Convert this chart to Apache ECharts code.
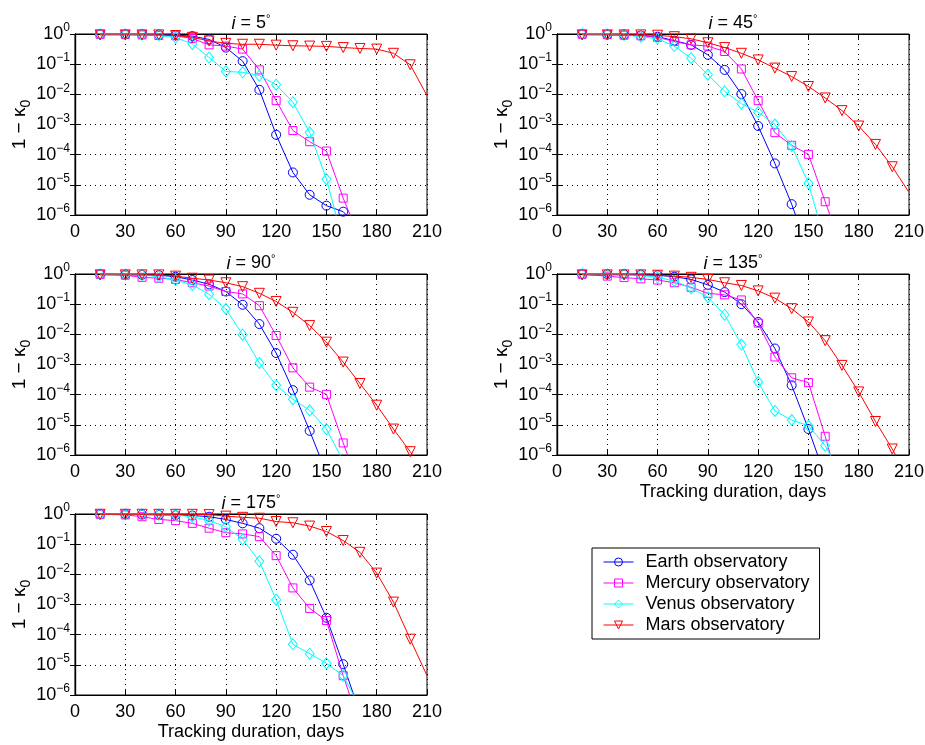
<!DOCTYPE html>
<html><head><meta charset="utf-8">
<script src="https://cdn.jsdelivr.net/npm/echarts@6/dist/echarts.min.js"></script>
<style>html,body{margin:0;padding:0;background:#fff}#c{width:925px;height:745px}</style>
</head><body><div id="c"></div>
<script>
// Tracking durations (days) at which the curves are sampled
const days = [15,30,40,50,60,70,80,90,100,110,120,130,140,150,160,170,180,190,200,210];
const xTicks = [0,30,60,90,120,150,180,210];
const panelIncl = ['5','45','90','135','175'];
const seriesNames = ['Earth observatory','Mercury observatory','Venus observatory','Mars observatory'];

// log10(1 - kappa0), one array per observatory and panel
const earth5   = [-0.01,-0.01,-0.01,-0.02,-0.04,-0.07,-0.18,-0.45,-0.90,-1.85,-3.34,-4.59,-5.33,-5.69,-5.89,-6.5];
const mercury5 = [-0.01,-0.02,-0.03,-0.05,-0.06,-0.15,-0.36,-0.40,-0.50,-1.19,-2.21,-3.20,-3.57,-3.88,-5.44,-6.8];
const venus5   = [-0.01,-0.01,-0.02,-0.04,-0.12,-0.33,-0.78,-1.24,-1.27,-1.38,-1.68,-2.26,-3.26,-4.81,-6.9];
const mars5    = [-0.03,-0.03,-0.03,-0.03,-0.05,-0.11,-0.23,-0.31,-0.34,-0.34,-0.37,-0.39,-0.40,-0.41,-0.45,-0.48,-0.50,-0.64,-1.02,-2.04];

const earth45   = [-0.01,-0.02,-0.03,-0.05,-0.09,-0.22,-0.36,-0.69,-1.19,-1.99,-3.05,-4.29,-5.64,-7.2];
const mercury45 = [-0.01,-0.02,-0.04,-0.06,-0.11,-0.25,-0.36,-0.40,-0.58,-1.16,-2.21,-3.27,-3.69,-3.99,-5.56,-7.1];
const venus45   = [-0.01,-0.01,-0.03,-0.09,-0.16,-0.40,-0.80,-1.35,-1.90,-2.31,-2.59,-3.00,-3.71,-4.95,-6.9];
const mars45    = [-0.03,-0.03,-0.03,-0.03,-0.04,-0.09,-0.16,-0.29,-0.45,-0.64,-0.86,-1.13,-1.41,-1.74,-2.12,-2.54,-3.05,-3.66,-4.40,-5.25];

const earth90   = [-0.01,-0.02,-0.03,-0.04,-0.09,-0.20,-0.34,-0.58,-1.02,-1.66,-2.62,-3.85,-5.20,-6.6];
const mercury90 = [-0.01,-0.04,-0.11,-0.14,-0.18,-0.29,-0.40,-0.58,-0.66,-1.05,-2.04,-3.11,-3.75,-3.99,-5.60,-7.1];
const venus90   = [-0.01,-0.02,-0.03,-0.09,-0.20,-0.36,-0.67,-1.16,-2.01,-2.95,-3.69,-4.15,-4.52,-5.14,-6.2];
const mars90    = [-0.03,-0.03,-0.03,-0.03,-0.07,-0.14,-0.20,-0.29,-0.42,-0.64,-0.91,-1.27,-1.71,-2.26,-2.92,-3.63,-4.35,-5.14,-5.89,-6.7];

const earth135   = [-0.01,-0.01,-0.01,-0.02,-0.04,-0.09,-0.18,-0.36,-0.60,-1.00,-1.59,-2.47,-3.69,-5.14,-6.7];
const mercury135 = [-0.01,-0.07,-0.12,-0.16,-0.20,-0.29,-0.44,-0.64,-0.69,-0.86,-1.63,-2.75,-3.44,-3.60,-5.38,-7.4];
const venus135   = [-0.01,-0.01,-0.01,-0.05,-0.11,-0.23,-0.47,-0.77,-1.35,-2.34,-3.58,-4.54,-4.84,-5.03,-5.69,-6.7];
const mars135    = [-0.03,-0.03,-0.03,-0.03,-0.04,-0.07,-0.11,-0.18,-0.29,-0.38,-0.56,-0.80,-1.15,-1.59,-2.21,-3.03,-3.91,-4.89,-5.80,-6.8];

const earth175   = [-0.01,-0.01,-0.02,-0.03,-0.04,-0.05,-0.09,-0.18,-0.31,-0.47,-0.82,-1.35,-2.20,-3.44,-4.98,-6.6];
const mercury175 = [-0.01,-0.03,-0.09,-0.18,-0.22,-0.31,-0.47,-0.62,-0.66,-0.75,-1.38,-2.45,-3.13,-3.53,-5.36,-7.0];
const venus175   = [-0.01,-0.01,-0.01,-0.02,-0.04,-0.09,-0.22,-0.42,-0.84,-1.57,-2.84,-4.32,-4.63,-4.95,-5.36,-6.4];
const mars175    = [-0.01,-0.01,-0.01,-0.01,-0.01,-0.01,-0.02,-0.07,-0.11,-0.14,-0.25,-0.29,-0.40,-0.58,-0.88,-1.27,-1.96,-2.92,-4.15,-5.36];

const panelData = [
  [earth5, mercury5, venus5, mars5],
  [earth45, mercury45, venus45, mars45],
  [earth90, mercury90, venus90, mars90],
  [earth135, mercury135, venus135, mars135],
  [earth175, mercury175, venus175, mars175]
];
// whether the last sample sits on the right edge (line ends there without a marker)
const edgeEnd = [true, true, false, false, true];

const FONT = '"Liberation Sans", Arial, Helvetica, sans-serif';
const colors = ['#0000ff', '#ff00ff', '#00ffff', '#ff0000'];
const symbols = ['circle', 'rect', 'diamond', 'triangle'];
const symSizes = [9, 8, [9, 11], 10];
const symRot = [0, 0, 0, 180];
const gridPos = [[75,34],[557,34],[75,274],[557,274],[75,514]];
const GW = 352, GH = 181;

const grids = [], xAxes = [], yAxes = [], series = [], titles = [];
const axisLineStyle = {show: true, lineStyle: {color: '#000', width: 1.2}};
const tickStyle = {show: true, inside: true, length: 5, lineStyle: {color: '#000', width: 1}};
const dotted = {show: true, lineStyle: {type: [1, 4], color: '#000', width: 1}};

gridPos.forEach((p, i) => {
  grids.push({left: p[0], top: p[1], width: GW, height: GH, outerBoundsMode: 'none', containLabel: false,
    show: true, borderColor: '#000', borderWidth: 1, backgroundColor: '#fff'});
  xAxes.push({gridIndex: i, type: 'value', position: 'bottom', min: xTicks[0], max: xTicks[xTicks.length-1], interval: 30,
    axisLine: axisLineStyle, axisTick: tickStyle, splitLine: dotted,
    axisLabel: {color: '#000', fontSize: 18, fontFamily: FONT, margin: 8},
    name: i >= 3 ? 'Tracking duration, days' : '', nameLocation: 'middle', nameGap: 28, nameMoveOverlap: false,
    nameTextStyle: {color: '#000', fontSize: 18, fontFamily: FONT}});
  xAxes.push({gridIndex: i, type: 'value', position: 'top', min: xTicks[0], max: xTicks[xTicks.length-1], interval: 30,
    axisLine: axisLineStyle, axisTick: tickStyle, axisLabel: {show: false}, splitLine: {show: false}});
  yAxes.push({gridIndex: i, type: 'log', logBase: 10, min: 1e-6, max: 1, position: 'left',
    axisLine: axisLineStyle, axisTick: tickStyle, splitLine: dotted,
    axisLabel: {color: '#000', fontFamily: FONT, margin: 5,
      formatter: v => '{b|10}{s|' + String(Math.round(Math.log10(v))).replace('-', '\u2212') + '}',
      rich: {b: {fontSize: 18, fontFamily: FONT, color: '#000'},
             s: {fontSize: 12, fontFamily: FONT, color: '#000', padding: [0, 0, 12, 0]}}},
    name: '1 \u2212 \u03ba{sub|0}', nameLocation: 'middle', nameRotate: 90, nameGap: 42, nameMoveOverlap: false,
    nameTextStyle: {color: '#000', fontSize: 19, fontFamily: FONT,
      rich: {sub: {fontSize: 14, fontFamily: FONT, color: '#000', padding: [12, 0, 0, 0]}}}});
  yAxes.push({gridIndex: i, type: 'log', logBase: 10, min: 1e-6, max: 1, position: 'right',
    axisLine: axisLineStyle, axisTick: tickStyle, axisLabel: {show: false}, splitLine: {show: false}});

  titles.push({text: '{it|i} = ' + panelIncl[i] + '{d|\u00b0}', left: p[0] + GW / 2, top: p[1] - 21, textAlign: 'center', padding: 0,
    textStyle: {fontSize: 18, fontWeight: 'normal', color: '#000', fontFamily: FONT,
      rich: {it: {fontStyle: 'italic', fontSize: 18, fontFamily: FONT, color: '#000'},
             d: {fontSize: 11, fontFamily: FONT, color: '#000', padding: [0, 0, 10, 0]}}}});

  panelData[i].forEach((arr, k) => {
    const data = arr.map((e, j) => {
      const pt = [days[j], Math.pow(10, e)];
      if (k === 3 && edgeEnd[i] && j === arr.length - 1) return {value: pt, symbol: 'none'};
      return pt;
    });
    series.push({type: 'line', name: seriesNames[k], xAxisIndex: 2 * i, yAxisIndex: 2 * i, data,
      color: colors[k],
      symbol: symbols[k], symbolSize: symSizes[k], symbolRotate: symRot[k], showAllSymbol: true,
      clip: true, animation: false, z: 2 + k,
      lineStyle: {color: colors[k], width: 1},
      itemStyle: {color: 'rgba(255,255,255,0)', borderColor: colors[k], borderWidth: 1},
      emphasis: {disabled: true}});
  });
});

const chart = echarts.init(document.getElementById('c'), null, {renderer: 'canvas'});
chart.setOption({
  backgroundColor: '#fff',
  animation: false,
  title: titles,
  grid: grids,
  xAxis: xAxes,
  yAxis: yAxes,
  legend: {data: seriesNames, orient: 'vertical', left: 592, top: 548,
    padding: [5, 10, 5, 11], itemGap: 3, itemWidth: 30, itemHeight: 10,
    borderColor: '#000', borderWidth: 1, backgroundColor: '#fff', borderRadius: 0,
    itemStyle: {color: 'rgba(255,255,255,0)', borderWidth: 1},
    lineStyle: {width: 1},
    textStyle: {color: '#000', fontSize: 18, fontFamily: FONT, lineHeight: 18, padding: [0, 0, 0, 7]},
    selectedMode: false},
  series: series
});
</script></body></html>
